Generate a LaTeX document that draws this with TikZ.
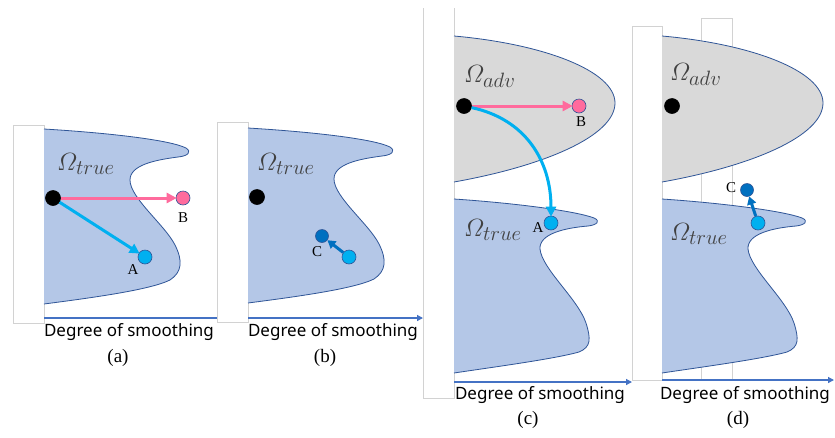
\documentclass[tikz,border=0pt]{standalone}
\usepackage{amsmath}
\usepackage{fontspec}
\newfontfamily\axfont{Noto Sans}
\newfontfamily\serifont{Liberation Serif}
\usetikzlibrary{arrows.meta}
\definecolor{truefill}{HTML}{B4C7E7}
\definecolor{advfill}{HTML}{D9D9D9}
\definecolor{edgeblue}{HTML}{2F5597}
\definecolor{axisblue}{HTML}{4472C4}
\definecolor{pinkc}{HTML}{FF6B9D}
\definecolor{lightb}{HTML}{00B0F0}
\definecolor{darkb}{HTML}{0070C0}
\definecolor{omegagray}{HTML}{404040}
\tikzset{
  frame/.style={draw=gray!35, fill=white, line width=0.7pt},
  edge/.style={draw=edgeblue, line width=0.8pt},
  dot/.style={circle, inner sep=0pt, minimum size=14pt, draw=edgeblue, line width=0.6pt},
  blackdot/.style={dot, fill=black, draw=black, minimum size=15pt},
  pinkdot/.style={dot, fill=pinkc},
  lightdot/.style={dot, fill=lightb},
  darkdot/.style={dot, fill=darkb, minimum size=13pt},
  axisline/.style={draw=axisblue, line width=1.3pt},
  axisarrow/.style={axisline, -{Triangle[length=6pt,width=6pt]}},
  arr/.style={line width=3pt, -{Triangle[length=10pt,width=10pt]}, shorten >=-1pt},
  omega/.style={text=omegagray, inner sep=0pt, anchor=base west, font=\fontsize{28}{32}\selectfont},
  axlabel/.style={inner sep=0pt, font=\axfont\fontsize{17}{20}\selectfont},
  sublabel/.style={inner sep=0pt, font=\serifont\fontsize{19}{22}\selectfont},
  ptlabel/.style={inner sep=0pt, font=\serifont\fontsize{15}{17}\selectfont},
  trueA/.pic={
    \fill[truefill] (0,0) .. controls (66,4) and (126,11) .. (142,19) .. controls (148,23) and (144,27) .. (134,28) .. controls (111,31) and (86,36) .. (86,51) .. controls (86,69) and (121,96) .. (131,116) .. controls (139,132) and (138,143) .. (126,151) .. controls (106,161) and (46,169) .. (0,175) -- cycle;
    \draw[edge] (0,0) .. controls (66,4) and (126,11) .. (142,19) .. controls (148,23) and (144,27) .. (134,28) .. controls (111,31) and (86,36) .. (86,51) .. controls (86,69) and (121,96) .. (131,116) .. controls (139,132) and (138,143) .. (126,151) .. controls (106,161) and (46,169) .. (0,175);
  },
  trueC/.pic={
    \fill[truefill] (0,0) .. controls (60,4) and (122,12) .. (140,19) .. controls (147,22) and (143,26) .. (134,27) .. controls (110,29) and (85,35) .. (86,50) .. controls (88,70) and (124,100) .. (132,124) .. controls (137,140) and (137,148) .. (125,153) .. controls (100,160) and (40,168) .. (0,174) -- cycle;
    \draw[edge] (0,0) .. controls (60,4) and (122,12) .. (140,19) .. controls (147,22) and (143,26) .. (134,27) .. controls (110,29) and (85,35) .. (86,50) .. controls (88,70) and (124,100) .. (132,124) .. controls (137,140) and (137,148) .. (125,153) .. controls (100,160) and (40,168) .. (0,174);
  },
  advC/.pic={
    \fill[advfill] (0,0) .. controls (90,8) and (161,35) .. (161,67) .. controls (161,100) and (90,130) .. (0,146) -- cycle;
    \draw[edge] (0,0) .. controls (90,8) and (161,35) .. (161,67) .. controls (161,100) and (90,130) .. (0,146);
  }
}
\begin{document}
\begin{tikzpicture}[x=1pt,y=-1pt]
\useasboundingbox (0,0) rectangle (835,437);
\fill[white] (0,0) rectangle (835,437);

% ---------- panel (a)
\draw[frame] (13,125) rectangle (44,323);
\pic at (44,129) {trueA};
\draw[axisline] (44,318) -- (217,318);
\node[omega] (oa) at (57,170) {$\varOmega_{true}$};
\node[blackdot] (k1) at (53,198) {};
\node[pinkdot] (B1) at (183,198) {};
\node[lightdot] (A1) at (145,257) {};
\draw[arr, pinkc] (k1) -- (B1);
\draw[arr, lightb] (k1) -- (A1);
\node[ptlabel] (lB1) at (183,218) {B};
\node[ptlabel] (lA1) at (133,270) {A};
\node[axlabel] (ta) at (129,332) {Degree of smoothing};
\node[sublabel] (sa) at (118,358) {(a)};

% ---------- panel (b)
\draw[frame] (217,122) rectangle (248,322);
\pic at (248,128) {trueA};
\draw[axisarrow] (248,318) -- (423,318);
\node[omega] (ob) at (257,170) {$\varOmega_{true}$};
\node[blackdot] (k2) at (257,197) {};
\node[darkdot] (C2) at (322,236) {};
\node[lightdot] (L2) at (349,257) {};
\draw[line width=3pt, darkb, -{Triangle[length=8pt,width=9pt]}] (L2) -- (C2);
\node[ptlabel] (lC2) at (317,252) {C};
\node[axlabel] (tb) at (333,332) {Degree of smoothing};
\node[sublabel] (sb) at (325,358) {(b)};

% ---------- panel (c)
\draw[draw=gray!35, line width=0.7pt] (423,8) -- (423,398) -- (454,398) -- (454,8);
\pic at (454,36) {advC};
\pic at (454,199) {trueC};
\draw[axisarrow] (454,382) -- (632,382);
\node[omega] (oc1) at (464,82) {$\varOmega_{adv}$};
\node[omega] (oc2) at (464,236) {$\varOmega_{true}$};
\node[blackdot] (k3) at (464,106) {};
\node[pinkdot] (B3) at (579,106) {};
\node[lightdot] (A3) at (551,223) {};
\draw[arr, pinkc] (k3) -- (B3);
\draw[arr, lightb] (k3) to[out=-12, in=90, looseness=1.05] (A3);
\node[ptlabel] (lB3) at (581,122) {B};
\node[ptlabel] (lA3) at (538,228) {A};
\node[axlabel] (tc) at (540,395) {Degree of smoothing};
\node[sublabel] (sc) at (528,420) {(c)};

% ---------- panel (d)
\draw[frame] (701,18) rectangle (732,379);
\draw[frame] (632,26) rectangle (662,380);
\pic at (662,36) {advC};
\pic at (662,199) {trueC};
\draw[axisarrow] (662,380) -- (834,380);
\node[omega] (od1) at (670,80) {$\varOmega_{adv}$};
\node[omega] (od2) at (670,240) {$\varOmega_{true}$};
\node[blackdot] (k4) at (672,106) {};
\node[darkdot] (C4) at (747,190) {};
\node[lightdot] (L4) at (758,223) {};
\draw[line width=3pt, darkb, -{Triangle[length=8pt,width=9pt]}] (L4) -- (C4);
\node[ptlabel] (lC4) at (731,188) {C};
\node[axlabel] (td) at (745,395) {Degree of smoothing};
\node[sublabel] (sd) at (738,420) {(d)};
\end{tikzpicture}
\end{document}
